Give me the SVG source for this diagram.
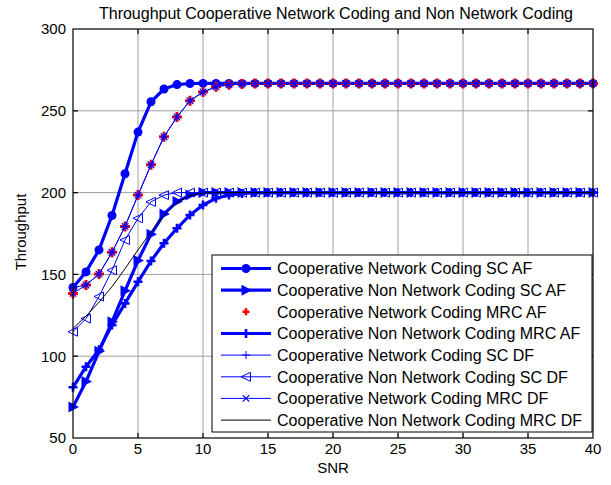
<svg xmlns="http://www.w3.org/2000/svg" width="611" height="485" viewBox="0 0 611 485">
<style>
text{font-family:"Liberation Sans",Arial,sans-serif;fill:#000}
.t16{font-size:16px}
.tk{font-size:15px}
.grid{stroke:#a0a0a0;stroke-width:1;fill:none}
.ax{stroke:#000;stroke-width:1.2;fill:none}
.thick{fill:none;stroke:#00f;stroke-width:3.2;stroke-linejoin:round}
.thin{fill:none;stroke:#00f;stroke-width:1;stroke-linejoin:round}
.none{fill:none;stroke:none}
.blk{fill:none;stroke:#000;stroke-width:1;stroke-linejoin:round}
.a1{marker-start:url(#mk1);marker-mid:url(#mk1);marker-end:url(#mk1)}
.a2{marker-start:url(#mk2);marker-mid:url(#mk2);marker-end:url(#mk2)}
.a3{marker-start:url(#mk3);marker-mid:url(#mk3);marker-end:url(#mk3)}
.a4{marker-start:url(#mk4);marker-mid:url(#mk4);marker-end:url(#mk4)}
.a5{marker-start:url(#mk5);marker-mid:url(#mk5);marker-end:url(#mk5)}
.a6{marker-start:url(#mk6);marker-mid:url(#mk6);marker-end:url(#mk6)}
.a7{marker-start:url(#mk7);marker-mid:url(#mk7);marker-end:url(#mk7)}
.l1{marker-mid:url(#mk1)}.l2{marker-mid:url(#mk2)}.l3{marker-mid:url(#mk3s)}.l4{marker-mid:url(#mk4)}
.l5{marker-mid:url(#mk5)}.l6{marker-mid:url(#mk6)}.l7{marker-mid:url(#mk7)}
</style>
<defs>
<marker id="mk1" markerUnits="userSpaceOnUse" markerWidth="1" markerHeight="1" refX="0" refY="0" overflow="visible"><circle r="4.5" fill="#00f"/></marker>
<marker id="mk2" markerUnits="userSpaceOnUse" markerWidth="1" markerHeight="1" refX="0" refY="0" overflow="visible"><polygon points="-4.5,-5.5 6,0 -4.5,5.5" fill="#00f"/></marker>
<marker id="mk3" markerUnits="userSpaceOnUse" markerWidth="1" markerHeight="1" refX="0" refY="0" overflow="visible"><path d="M-5,0H5M0,-5V5" stroke="#f00" stroke-width="3" fill="none"/></marker>
<marker id="mk3s" markerUnits="userSpaceOnUse" markerWidth="1" markerHeight="1" refX="0" refY="0" overflow="visible"><path d="M-3.5,0H3.5M0,-3.5V3.5" stroke="#f00" stroke-width="2.6" fill="none"/></marker>
<marker id="mk4" markerUnits="userSpaceOnUse" markerWidth="1" markerHeight="1" refX="0" refY="0" overflow="visible"><path d="M-4.5,0H4.5M0,-4.5V4.5" stroke="#00f" stroke-width="2.6" fill="none"/></marker>
<marker id="mk5" markerUnits="userSpaceOnUse" markerWidth="1" markerHeight="1" refX="0" refY="0" overflow="visible"><path d="M-4,0H4M0,-4V4" stroke="#00f" stroke-width="1" fill="none"/></marker>
<marker id="mk6" markerUnits="userSpaceOnUse" markerWidth="1" markerHeight="1" refX="0" refY="0" overflow="visible"><polygon points="4.5,-4.5 -5,0 4.5,4.5" stroke="#00f" stroke-width="1" fill="none"/></marker>
<marker id="mk7" markerUnits="userSpaceOnUse" markerWidth="1" markerHeight="1" refX="0" refY="0" overflow="visible"><path d="M-3.3,-3.3L3.3,3.3M-3.3,3.3L3.3,-3.3" stroke="#00f" stroke-width="1.2" fill="none"/></marker>
</defs>
<rect x="0" y="0" width="611" height="485" fill="#fff"/>
<text class="t16" x="336" y="19" text-anchor="middle">Throughput Cooperative Network Coding and Non Network Coding</text>
<g id="grid">
<path class="grid" d="M138,29V438M203,29V438M268,29V438M333,29V438M398,29V438M463,29V438M528,29V438M73,356.2H593M73,274.4H593M73,192.6H593M73,110.8H593"/>
</g>
<g id="connectors">
<polyline id="c1" class="thick a1" points="73,287.5 86,271.9 99,249.9 112,215.5 125,173.8 138,132.1 151,101.8 164,89 177,84.6 190,83.5 203,83.4 216,83.4 229,83.4 242,83.4 255,83.4 268,83.4 281,83.4 294,83.4 307,83.4 320,83.4 333,83.4 346,83.4 359,83.4 372,83.4 385,83.4 398,83.4 411,83.4 424,83.4 437,83.4 450,83.4 463,83.4 476,83.4 489,83.4 502,83.4 515,83.4 528,83.4 541,83.4 554,83.4 567,83.4 580,83.4 593,83.4"/>
<polyline id="c2" class="thick a2" points="73,406.9 86,381.6 99,351.3 112,321.8 125,290.8 138,260.5 151,234.3 164,213.9 177,201.6 190,195.1 203,192.6 216,192.6 229,192.6 242,192.6 255,192.6 268,192.6 281,192.6 294,192.6 307,192.6 320,192.6 333,192.6 346,192.6 359,192.6 372,192.6 385,192.6 398,192.6 411,192.6 424,192.6 437,192.6 450,192.6 463,192.6 476,192.6 489,192.6 502,192.6 515,192.6 528,192.6 541,192.6 554,192.6 567,192.6 580,192.6 593,192.6"/>
<polyline id="c3" class="none a3" points="73,293.4 86,285 99,274.1 112,252.3 125,226.5 138,195.1 151,164.8 164,136.7 177,117 190,100.7 203,92 216,86.8 229,84.8 242,84 255,83.4 268,83.4 281,83.4 294,83.4 307,83.4 320,83.4 333,83.4 346,83.4 359,83.4 372,83.4 385,83.4 398,83.4 411,83.4 424,83.4 437,83.4 450,83.4 463,83.4 476,83.4 489,83.4 502,83.4 515,83.4 528,83.4 541,83.4 554,83.4 567,83.4 580,83.4 593,83.4"/>
<polyline id="c4" class="thick a4" points="73,387.3 86,366.7 99,349.7 112,325.1 125,303.4 138,281.8 151,261 164,243.3 177,228.3 190,215 203,205 216,198.3 229,195.1 242,193.4 255,192.6 268,192.6 281,192.6 294,192.6 307,192.6 320,192.6 333,192.6 346,192.6 359,192.6 372,192.6 385,192.6 398,192.6 411,192.6 424,192.6 437,192.6 450,192.6 463,192.6 476,192.6 489,192.6 502,192.6 515,192.6 528,192.6 541,192.6 554,192.6 567,192.6 580,192.6 593,192.6"/>
<polyline id="c5" class="thin a5" points="73,287.5 86,285 99,274.1 112,252.3 125,226.5 138,195.1 151,164.8 164,136.7 177,117 190,100.7 203,92 216,86.8 229,84.8 242,84 255,83.4 268,83.4 281,83.4 294,83.4 307,83.4 320,83.4 333,83.4 346,83.4 359,83.4 372,83.4 385,83.4 398,83.4 411,83.4 424,83.4 437,83.4 450,83.4 463,83.4 476,83.4 489,83.4 502,83.4 515,83.4 528,83.4 541,83.4 554,83.4 567,83.4 580,83.4 593,83.4"/>
<polyline id="c6" class="thin a6" points="73,331.7 86,318.6 99,296.5 112,270.3 125,240 138,218.3 151,201.9 164,195.1 177,192.6 190,192.6 203,192.6 216,192.6 229,192.6 242,192.6 255,192.6 268,192.6 281,192.6 294,192.6 307,192.6 320,192.6 333,192.6 346,192.6 359,192.6 372,192.6 385,192.6 398,192.6 411,192.6 424,192.6 437,192.6 450,192.6 463,192.6 476,192.6 489,192.6 502,192.6 515,192.6 528,192.6 541,192.6 554,192.6 567,192.6 580,192.6 593,192.6"/>
<polyline id="c7" class="thin a7" points="73,293.4 86,285 99,274.1 112,252.3 125,226.5 138,195.1 151,164.8 164,136.7 177,117 190,100.7 203,92 216,86.8 229,84.8 242,84 255,83.4 268,83.4 281,83.4 294,83.4 307,83.4 320,83.4 333,83.4 346,83.4 359,83.4 372,83.4 385,83.4 398,83.4 411,83.4 424,83.4 437,83.4 450,83.4 463,83.4 476,83.4 489,83.4 502,83.4 515,83.4 528,83.4 541,83.4 554,83.4 567,83.4 580,83.4 593,83.4"/>
<polyline id="c8" class="blk" points="73,328.4 86,316.1 99,302.2 112,286.7 125,268.7 138,249.9 151,231.9 164,215.5 177,202.4 190,195.4 203,193.1 216,192.6 593,192.6"/>
</g>
<g id="axes">
<rect class="ax" x="73" y="29" width="520" height="409"/>
<path class="ax" d="M138,438v-5M203,438v-5M268,438v-5M333,438v-5M398,438v-5M463,438v-5M528,438v-5M138,29v5M203,29v5M268,29v5M333,29v5M398,29v5M463,29v5M528,29v5M73,356.2h5M73,274.4h5M73,192.6h5M73,110.8h5M593,356.2h-5M593,274.4h-5M593,192.6h-5M593,110.8h-5"/>
<g class="tk" text-anchor="end">
<text x="66" y="34.4">300</text>
<text x="66" y="116.2">250</text>
<text x="66" y="198">200</text>
<text x="66" y="279.8">150</text>
<text x="66" y="361.6">100</text>
<text x="66" y="443.4">50</text>
</g>
<g class="tk" text-anchor="middle">
<text x="73" y="454">0</text>
<text x="138" y="454">5</text>
<text x="203" y="454">10</text>
<text x="268" y="454">15</text>
<text x="333" y="454">20</text>
<text x="398" y="454">25</text>
<text x="463" y="454">30</text>
<text x="528" y="454">35</text>
<text x="593" y="454">40</text>
</g>
<text class="tk" x="333" y="473" text-anchor="middle">SNR</text>
<text class="tk" x="0" y="0" text-anchor="middle" transform="translate(26,232) rotate(-90)">Throughput</text>
</g>
<g id="legend">
<rect x="212" y="255" width="380" height="177" fill="#fff" stroke="#000" stroke-width="1"/>
<polyline class="thick l1" points="221,268.5 246,268.5 271,268.5"/>
<polyline class="thick l2" points="221,290.2 246,290.2 271,290.2"/>
<polyline class="none l3" points="221,311.8 246,311.8 271,311.8"/>
<polyline class="thick l4" points="221,333.5 246,333.5 271,333.5"/>
<polyline class="thin l5" points="221,355.1 246,355.1 271,355.1"/>
<polyline class="thin l6" points="221,376.8 246,376.8 271,376.8"/>
<polyline class="thin l7" points="221,398.4 246,398.4 271,398.4"/>
<polyline class="blk" points="221,420.1 271,420.1"/>
<g class="t16">
<text x="277" y="274.2">Cooperative Network Coding SC AF</text>
<text x="277" y="295.9">Cooperative Non Network Coding SC AF</text>
<text x="277" y="317.5">Cooperative Network Coding MRC AF</text>
<text x="277" y="339.2">Cooperative Non Network Coding MRC AF</text>
<text x="277" y="360.8">Cooperative Network Coding SC DF</text>
<text x="277" y="382.5">Cooperative Non Network Coding SC DF</text>
<text x="277" y="404.1">Cooperative Network Coding MRC DF</text>
<text x="277" y="425.8">Cooperative Non Network Coding MRC DF</text>
</g>
</g>
</svg>
